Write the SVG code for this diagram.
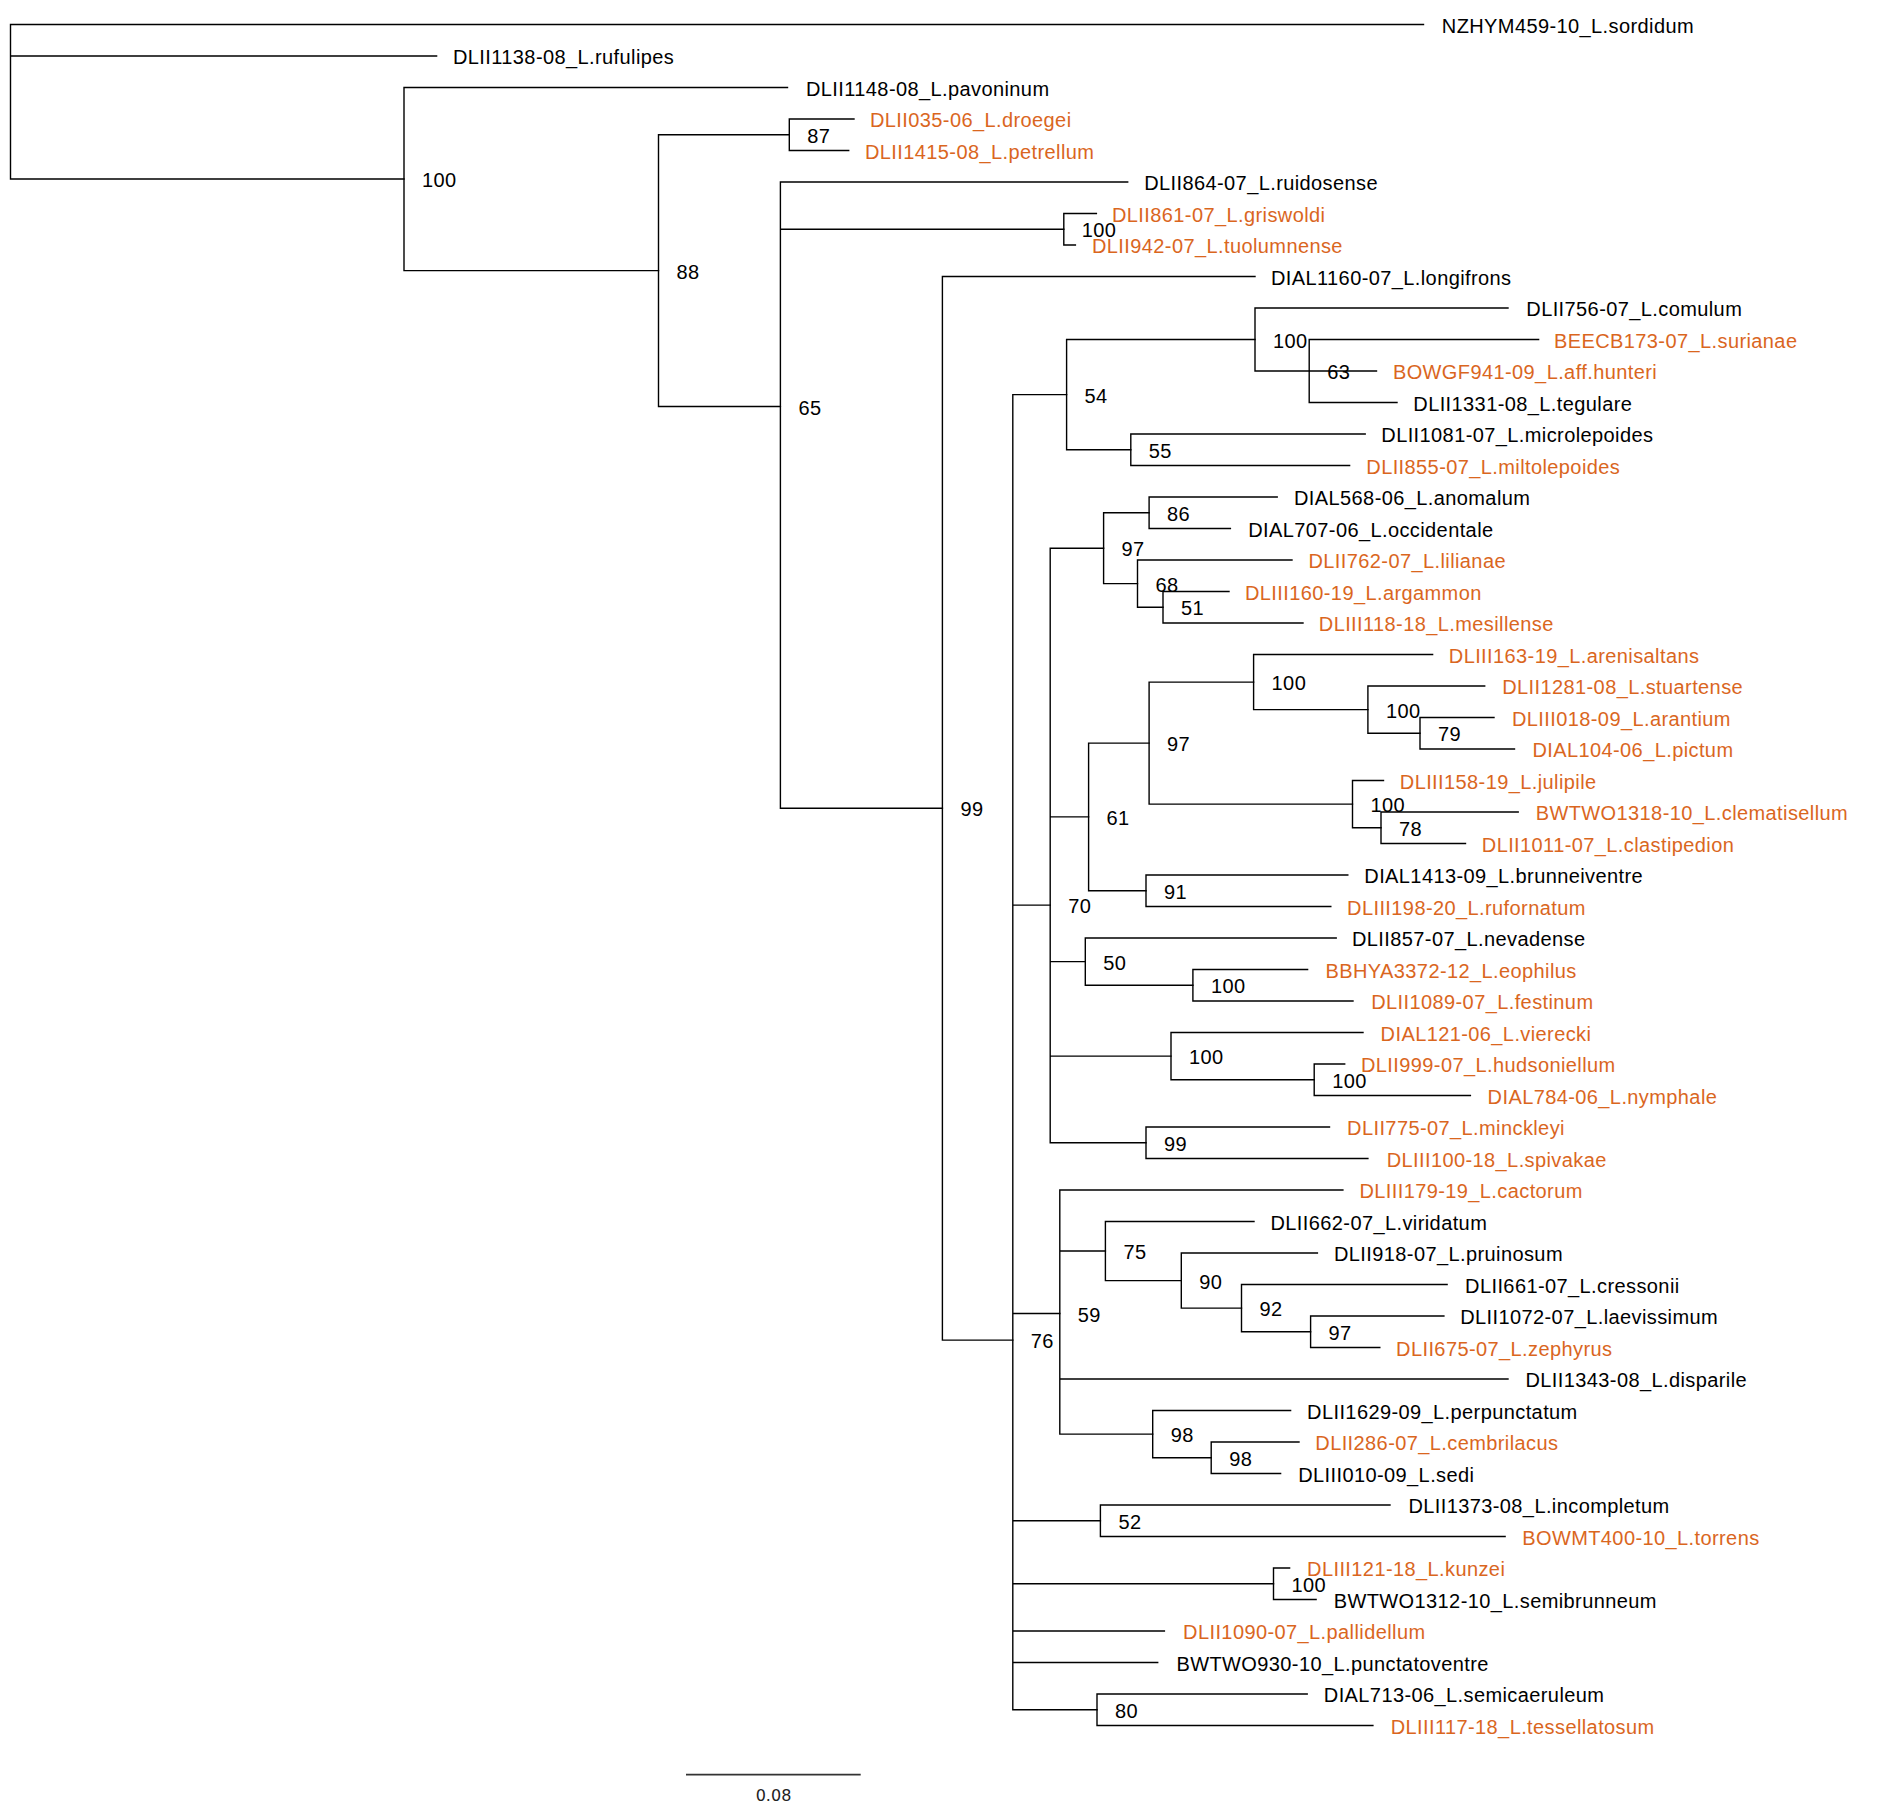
<svg xmlns="http://www.w3.org/2000/svg" width="1890" height="1816" viewBox="0 0 1890 1816">
<style>
.br{fill:none;stroke:#000;stroke-width:1.4;stroke-linecap:square}
text{font-family:"Liberation Sans",Arial,sans-serif;font-size:20px;letter-spacing:0.4px;fill:#000}
.o{fill:#DA661E}
.sc{stroke:#333;stroke-width:1.8}
.st{font-family:"DejaVu Sans",sans-serif;font-size:16px;letter-spacing:0;fill:#222}
</style>
<rect width="1890" height="1816" fill="#fff"/>
<g id="connectors" class="br">
<path d="M10.5 24.5V179.05M10.5 24.5H1423.5M10.5 56H436.6M10.5 179.05H404"/>
<path d="M404 87.5V270.6M404 87.5H787.5M404 270.6H658.5"/>
<path d="M658.5 134.75V406.5M658.5 134.75H789.3M658.5 406.5H780.4"/>
<path d="M789.3 119V150.5M789.3 119H854M789.3 150.5H848.7"/>
<path d="M780.4 182V808.3M780.4 182H1127.7M780.4 229.25H1063.8M780.4 808.3H942.4"/>
<path d="M1063.8 213.5V245M1063.8 213.5H1096.4M1063.8 245H1075.4"/>
<path d="M942.4 276.5V1340.1M942.4 276.5H1255M942.4 1340.1H1012.8"/>
<path d="M1012.8 394.6V1709.75M1012.8 394.6H1066.6M1012.8 905.1H1050.2M1012.8 1313.5H1059.8M1012.8 1520.75H1100.4M1012.8 1583.75H1273.5M1012.8 1631H1164.4M1012.8 1662.5H1157.7M1012.8 1709.75H1097"/>
<path d="M1066.6 339.5V449.75M1066.6 339.5H1255M1066.6 449.75H1130.8"/>
<path d="M1255 308V371M1255 308H1508M1255 371H1309.2"/>
<path d="M1309.2 339.5V402.5M1309.2 339.5H1538.6M1309.2 371H1376.5M1309.2 402.5H1397"/>
<path d="M1130.8 434V465.5M1130.8 434H1365.2M1130.8 465.5H1349.6"/>
<path d="M1050.2 548.2V1142.75M1050.2 548.2H1103.6M1050.2 816.9H1088.6M1050.2 961.6H1085.3M1050.2 1056.1H1171M1050.2 1142.75H1146"/>
<path d="M1103.6 512.75V583.6M1103.6 512.75H1149.1M1103.6 583.6H1137.5"/>
<path d="M1149.1 497V528.5M1149.1 497H1277.2M1149.1 528.5H1230.4"/>
<path d="M1137.5 560V607.25M1137.5 560H1292M1137.5 607.25H1163"/>
<path d="M1163 591.5V623M1163 591.5H1229M1163 623H1303"/>
<path d="M1088.6 743.1V890.75M1088.6 743.1H1149.1M1088.6 890.75H1146"/>
<path d="M1149.1 682.1V804.1M1149.1 682.1H1253.6M1149.1 804.1H1352.5"/>
<path d="M1253.6 654.5V709.6M1253.6 654.5H1432.6M1253.6 709.6H1367.9"/>
<path d="M1367.9 686V733.25M1367.9 686H1484.7M1367.9 733.25H1420"/>
<path d="M1420 717.5V749M1420 717.5H1494M1420 749H1514.5"/>
<path d="M1352.5 780.5V827.75M1352.5 780.5H1383.5M1352.5 827.75H1381"/>
<path d="M1381 812V843.5M1381 812H1518.2M1381 843.5H1465.5"/>
<path d="M1146 875V906.5M1146 875H1347.8M1146 906.5H1330.8"/>
<path d="M1085.3 938V985.25M1085.3 938H1336.2M1085.3 985.25H1192.9"/>
<path d="M1192.9 969.5V1001M1192.9 969.5H1307.6M1192.9 1001H1353"/>
<path d="M1171 1032.5V1079.75M1171 1032.5H1363M1171 1079.75H1314.2"/>
<path d="M1314.2 1064V1095.5M1314.2 1064H1344.7M1314.2 1095.5H1470.4"/>
<path d="M1146 1127V1158.5M1146 1127H1329.5M1146 1158.5H1367.9"/>
<path d="M1059.8 1190V1434.1M1059.8 1190H1342.9M1059.8 1251H1105.4M1059.8 1379H1508M1059.8 1434.1H1152.7"/>
<path d="M1105.4 1221.5V1280.6M1105.4 1221.5H1254M1105.4 1280.6H1181.3"/>
<path d="M1181.3 1253V1308.1M1181.3 1253H1317.4M1181.3 1308.1H1241.5"/>
<path d="M1241.5 1284.5V1331.75M1241.5 1284.5H1447.1M1241.5 1331.75H1310.6"/>
<path d="M1310.6 1316V1347.5M1310.6 1316H1443.9M1310.6 1347.5H1379.8"/>
<path d="M1152.7 1410.5V1457.75M1152.7 1410.5H1290.6M1152.7 1457.75H1211.2"/>
<path d="M1211.2 1442V1473.5M1211.2 1442H1299M1211.2 1473.5H1280.6"/>
<path d="M1100.4 1505V1536.5M1100.4 1505H1390M1100.4 1536.5H1505.1"/>
<path d="M1273.5 1568V1599.5M1273.5 1568H1289.6M1273.5 1599.5H1316.1"/>
<path d="M1097 1694V1725.5M1097 1694H1307.2M1097 1725.5H1372.9"/>
</g>
<g id="leaf-sordidum"><text x="1441.8" y="32.5">NZHYM459-10_L.sordidum</text></g>
<g id="leaf-rufulipes"><text x="453" y="64">DLII1138-08_L.rufulipes</text></g>
<g id="leaf-pavoninum"><text x="806" y="95.5">DLII1148-08_L.pavoninum</text></g>
<g id="leaf-droegei"><text class="o" x="870" y="127">DLII035-06_L.droegei</text></g>
<g id="leaf-petrellum"><text class="o" x="865" y="158.5">DLII1415-08_L.petrellum</text></g>
<g id="leaf-ruidosense"><text x="1144.2" y="190">DLII864-07_L.ruidosense</text></g>
<g id="leaf-griswoldi"><text class="o" x="1112" y="221.5">DLII861-07_L.griswoldi</text></g>
<g id="leaf-tuolumnense"><text class="o" x="1092" y="253">DLII942-07_L.tuolumnense</text></g>
<g id="leaf-longifrons"><text x="1271" y="284.5">DIAL1160-07_L.longifrons</text></g>
<g id="leaf-comulum"><text x="1526.3" y="316">DLII756-07_L.comulum</text></g>
<g id="leaf-surianae"><text class="o" x="1554" y="347.5">BEECB173-07_L.surianae</text></g>
<g id="leaf-hunteri"><text class="o" x="1392.9" y="379">BOWGF941-09_L.aff.hunteri</text></g>
<g id="leaf-tegulare"><text x="1413.3" y="410.5">DLII1331-08_L.tegulare</text></g>
<g id="leaf-microlepoides"><text x="1381.3" y="442">DLII1081-07_L.microlepoides</text></g>
<g id="leaf-miltolepoides"><text class="o" x="1366.3" y="473.5">DLII855-07_L.miltolepoides</text></g>
<g id="leaf-anomalum"><text x="1294" y="505">DIAL568-06_L.anomalum</text></g>
<g id="leaf-occidentale"><text x="1248.2" y="536.5">DIAL707-06_L.occidentale</text></g>
<g id="leaf-lilianae"><text class="o" x="1308.5" y="568">DLII762-07_L.lilianae</text></g>
<g id="leaf-argammon"><text class="o" x="1245" y="599.5">DLIII160-19_L.argammon</text></g>
<g id="leaf-mesillense"><text class="o" x="1318.8" y="631">DLIII118-18_L.mesillense</text></g>
<g id="leaf-arenisaltans"><text class="o" x="1448.8" y="662.5">DLIII163-19_L.arenisaltans</text></g>
<g id="leaf-stuartense"><text class="o" x="1502.2" y="694">DLII1281-08_L.stuartense</text></g>
<g id="leaf-arantium"><text class="o" x="1512" y="725.5">DLIII018-09_L.arantium</text></g>
<g id="leaf-pictum"><text class="o" x="1532.4" y="757">DIAL104-06_L.pictum</text></g>
<g id="leaf-julipile"><text class="o" x="1399.8" y="788.5">DLIII158-19_L.julipile</text></g>
<g id="leaf-clematisellum"><text class="o" x="1535.7" y="820">BWTWO1318-10_L.clematisellum</text></g>
<g id="leaf-clastipedion"><text class="o" x="1481.8" y="851.5">DLII1011-07_L.clastipedion</text></g>
<g id="leaf-brunneiventre"><text x="1364.3" y="883">DIAL1413-09_L.brunneiventre</text></g>
<g id="leaf-rufornatum"><text class="o" x="1347.1" y="914.5">DLIII198-20_L.rufornatum</text></g>
<g id="leaf-nevadense"><text x="1352" y="946">DLII857-07_L.nevadense</text></g>
<g id="leaf-eophilus"><text class="o" x="1325.5" y="977.5">BBHYA3372-12_L.eophilus</text></g>
<g id="leaf-festinum"><text class="o" x="1371.2" y="1009">DLII1089-07_L.festinum</text></g>
<g id="leaf-vierecki"><text class="o" x="1380.6" y="1040.5">DIAL121-06_L.vierecki</text></g>
<g id="leaf-hudsoniellum"><text class="o" x="1361" y="1072">DLII999-07_L.hudsoniellum</text></g>
<g id="leaf-nymphale"><text class="o" x="1487.6" y="1103.5">DIAL784-06_L.nymphale</text></g>
<g id="leaf-minckleyi"><text class="o" x="1347.1" y="1135">DLII775-07_L.minckleyi</text></g>
<g id="leaf-spivakae"><text class="o" x="1386.7" y="1166.5">DLIII100-18_L.spivakae</text></g>
<g id="leaf-cactorum"><text class="o" x="1359.4" y="1198">DLIII179-19_L.cactorum</text></g>
<g id="leaf-viridatum"><text x="1270.5" y="1229.5">DLII662-07_L.viridatum</text></g>
<g id="leaf-pruinosum"><text x="1334" y="1261">DLII918-07_L.pruinosum</text></g>
<g id="leaf-cressonii"><text x="1465.1" y="1292.5">DLII661-07_L.cressonii</text></g>
<g id="leaf-laevissimum"><text x="1460.2" y="1324">DLII1072-07_L.laevissimum</text></g>
<g id="leaf-zephyrus"><text class="o" x="1396.1" y="1355.5">DLII675-07_L.zephyrus</text></g>
<g id="leaf-disparile"><text x="1525.5" y="1387">DLII1343-08_L.disparile</text></g>
<g id="leaf-perpunctatum"><text x="1307.1" y="1418.5">DLII1629-09_L.perpunctatum</text></g>
<g id="leaf-cembrilacus"><text class="o" x="1315.3" y="1450">DLII286-07_L.cembrilacus</text></g>
<g id="leaf-sedi"><text x="1298.2" y="1481.5">DLIII010-09_L.sedi</text></g>
<g id="leaf-incompletum"><text x="1408.4" y="1513">DLII1373-08_L.incompletum</text></g>
<g id="leaf-torrens"><text class="o" x="1522.2" y="1544.5">BOWMT400-10_L.torrens</text></g>
<g id="leaf-kunzei"><text class="o" x="1307.1" y="1576">DLIII121-18_L.kunzei</text></g>
<g id="leaf-semibrunneum"><text x="1333.7" y="1607.5">BWTWO1312-10_L.semibrunneum</text></g>
<g id="leaf-pallidellum"><text class="o" x="1183.1" y="1639">DLII1090-07_L.pallidellum</text></g>
<g id="leaf-punctatoventre"><text x="1176.4" y="1670.5">BWTWO930-10_L.punctatoventre</text></g>
<g id="leaf-semicaeruleum"><text x="1323.8" y="1702">DIAL713-06_L.semicaeruleum</text></g>
<g id="leaf-tessellatosum"><text class="o" x="1390.7" y="1733.5">DLIII117-18_L.tessellatosum</text></g>
<g id="n-a"><text x="422" y="187">100</text></g>
<g id="n-88"><text x="676.5" y="278.6">88</text></g>
<g id="n-87"><text x="807.3" y="142.75">87</text></g>
<g id="n-65"><text x="798.4" y="414.5">65</text></g>
<g id="n-100b"><text x="1081.8" y="237.25">100</text></g>
<g id="n-99"><text x="960.4" y="816.3">99</text></g>
<g id="n-76"><text x="1030.8" y="1348.1">76</text></g>
<g id="n-54"><text x="1084.6" y="402.6">54</text></g>
<g id="n-100c"><text x="1273" y="347.5">100</text></g>
<g id="n-63"><text x="1327.2" y="379">63</text></g>
<g id="n-55"><text x="1148.8" y="457.75">55</text></g>
<g id="n-70"><text x="1068.2" y="913.1">70</text></g>
<g id="n-97a"><text x="1121.6" y="556.2">97</text></g>
<g id="n-86"><text x="1167.1" y="520.75">86</text></g>
<g id="n-68"><text x="1155.5" y="591.6">68</text></g>
<g id="n-51"><text x="1181" y="615.25">51</text></g>
<g id="n-61"><text x="1106.6" y="824.9">61</text></g>
<g id="n-97b"><text x="1167.1" y="751.1">97</text></g>
<g id="n-100e"><text x="1271.6" y="690.1">100</text></g>
<g id="n-100g"><text x="1385.9" y="717.6">100</text></g>
<g id="n-79"><text x="1438" y="741.25">79</text></g>
<g id="n-100f"><text x="1370.5" y="812.1">100</text></g>
<g id="n-78"><text x="1399" y="835.75">78</text></g>
<g id="n-91"><text x="1164" y="898.75">91</text></g>
<g id="n-50"><text x="1103.3" y="969.6">50</text></g>
<g id="n-100h"><text x="1210.9" y="993.25">100</text></g>
<g id="n-100d"><text x="1189" y="1064.1">100</text></g>
<g id="n-100i"><text x="1332.2" y="1087.75">100</text></g>
<g id="n-99b"><text x="1164" y="1150.75">99</text></g>
<g id="n-59"><text x="1077.8" y="1321.5">59</text></g>
<g id="n-75"><text x="1123.4" y="1259">75</text></g>
<g id="n-90"><text x="1199.3" y="1288.6">90</text></g>
<g id="n-92"><text x="1259.5" y="1316.1">92</text></g>
<g id="n-97c"><text x="1328.6" y="1339.75">97</text></g>
<g id="n-98a"><text x="1170.7" y="1442.1">98</text></g>
<g id="n-98b"><text x="1229.2" y="1465.75">98</text></g>
<g id="n-52"><text x="1118.4" y="1528.75">52</text></g>
<g id="n-100k"><text x="1291.5" y="1591.75">100</text></g>
<g id="n-80"><text x="1115" y="1717.75">80</text></g>
<g id="scale-bar">
<line class="sc" x1="686" y1="1774.7" x2="860.7" y2="1774.7"/>
<text class="st" x="773.5" y="1801" text-anchor="middle">0.08</text>
</g>
</svg>
